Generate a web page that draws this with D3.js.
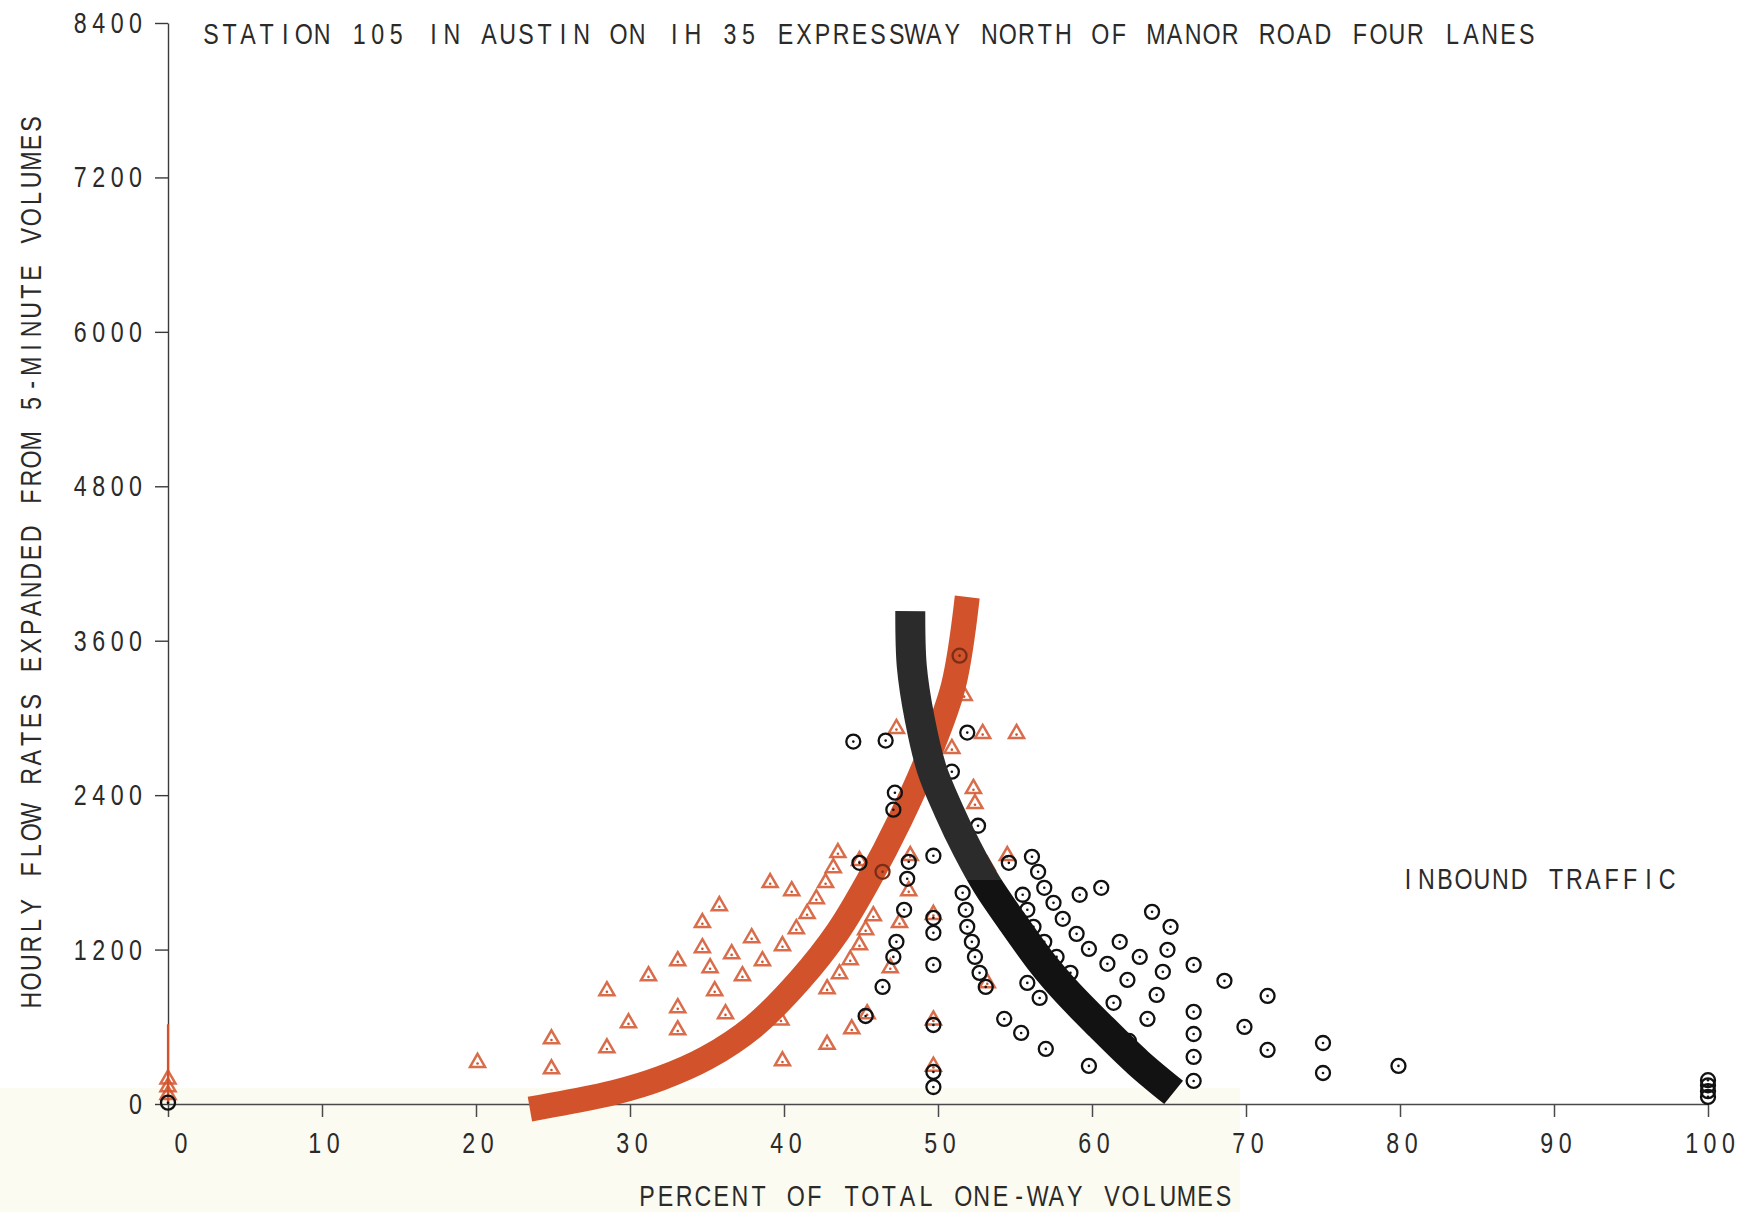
<!DOCTYPE html>
<html>
<head>
<meta charset="utf-8">
<script src="https://cdn.jsdelivr.net/npm/d3@7/dist/d3.min.js"></script>
<style>
  html, body { margin: 0; padding: 0; background: #ffffff; }
  svg { display: block; }
  .plot-text { font-family: "Liberation Sans", Arial, sans-serif; fill: #2a2a2a; }
</style>
</head>
<body>
<svg id="chart" width="1744" height="1212"></svg>
<script>
// ---- labels ----
const titleText = "STATION 105 IN AUSTIN ON IH 35 EXPRESSWAY NORTH OF MANOR ROAD FOUR LANES";
const xAxisTitle = "PERCENT OF TOTAL ONE-WAY VOLUMES";
const yAxisTitle = "HOURLY FLOW RATES EXPANDED FROM 5-MINUTE VOLUMES";
const panelNote = "INBOUND TRAFFIC";

// ---- axis ticks ----
const xTicks = [0, 10, 20, 30, 40, 50, 60, 70, 80, 90, 100];
const yTicks = [0, 1200, 2400, 3600, 4800, 6000, 7200, 8400];

// ---- observations: [percent of total one-way volume, hourly flow rate] ----
const inboundPoints = [
  [0, 10],
  [44.5, 2816], [46.6, 2824], [51.9, 2886], [50.9, 2582], [52.6, 2162], [47.2, 2419], [47.1, 2287],
  [44.9, 1874], [48.1, 1882], [48.0, 1750], [49.7, 1929], [47.8, 1509], [49.7, 1447], [49.7, 1330],
  [47.3, 1260], [47.1, 1143], [49.7, 1081], [46.4, 910], [45.3, 684], [49.7, 614], [49.7, 249], [49.7, 132],
  [54.6, 1874], [51.6, 1641], [51.8, 1509], [51.9, 1377], [52.2, 1260], [52.4, 1143], [52.7, 1019],
  [53.1, 910], [54.3, 661], [55.5, 1626],
  [56.1, 1921], [56.5, 1804], [56.9, 1680], [57.5, 1563], [55.8, 1509], [58.1, 1439], [56.2, 1377],
  [59.0, 1322], [56.9, 1260], [59.8, 1205], [57.7, 1143], [61.0, 1089], [58.6, 1019], [59.2, 1626],
  [60.6, 1680], [61.8, 1260], [63.1, 1143], [62.3, 964], [63.9, 1493], [65.1, 1377], [64.9, 1198],
  [64.6, 1027], [66.6, 1081], [64.2, 848], [61.4, 786], [63.6, 661], [66.6, 716], [66.6, 544],
  [66.6, 366], [66.6, 179], [55.4, 552], [57.0, 428], [59.8, 296], [62.4, 490], [68.6, 957],
  [71.4, 840], [69.9, 599], [71.4, 420], [75.0, 474], [75.0, 241], [79.9, 296], [55.8, 941], [56.6, 824],
  [100, 55], [100, 100], [100, 145], [100, 185]
];

const outboundPoints = [
  [0, 80], [0, 140], [0, 200],
  [20.1, 330], [24.9, 513], [24.9, 280], [28.5, 887], [28.5, 443], [29.9, 638], [31.2, 1003],
  [33.1, 1120], [33.1, 755], [33.1, 583], [34.7, 1416], [34.7, 1221], [35.2, 1066], [35.5, 887],
  [35.8, 1548], [36.2, 708], [36.6, 1174], [37.3, 1003], [37.9, 1299], [38.6, 1120], [39.1, 1727],
  [39.9, 1237], [39.9, 342], [39.8, 660], [40.5, 1664], [40.8, 1369], [41.5, 1486], [42.1, 1602],
  [42.7, 1727], [43.2, 1843], [43.5, 1960], [42.8, 902], [43.6, 1019], [42.8, 470], [44.4, 591],
  [44.3, 1128], [44.9, 1244], [45.3, 1361], [45.8, 1470], [44.9, 1898], [46.9, 1066], [47.5, 1416],
  [48.2, 1937], [48.1, 1664], [45.4, 708], [47.3, 2925], [50.9, 2769], [51.7, 3181], [52.3, 2458],
  [52.4, 2341], [52.9, 2886], [55.1, 2886], [53.2, 1859], [54.5, 1937], [53.2, 949],
  [49.7, 1480], [49.7, 660], [49.7, 300]
];

// marks where both series print on top of each other
const overprintPoints = [[51.4, 3484], [46.4, 1804]];

// ---- fitted relationships ----
const outboundCurve = [
  [23.5, -40], [26, 15], [29, 90], [32, 200], [35, 360], [38, 600], [41, 960], [43.5, 1340],
  [45.5, 1740], [47.5, 2200], [49.5, 2740], [51, 3250], [51.9, 3940]
];
const inboundCurve = [
  [48.2, 3830], [48.3, 3400], [48.8, 3000], [49.6, 2600], [50.7, 2280], [51.9, 1980], [53.2, 1700],
  [54.8, 1420], [56.8, 1090], [58.3, 880], [60.5, 610], [63.0, 320], [65.3, 90]
];

// outbound series is also
const outboundZeroTrace = [0, 620];

// ---- drawing ----
const RED = "#d2532b";

const svg = d3.select("#chart");
const x = d3.scaleLinear().domain([0, 100]).range([168, 1708]);
const y = d3.scaleLinear().domain([0, 8400]).range([1104, 23]);

// paper tint along the lower edge
svg.append("rect").attr("x", 0).attr("y", 1088).attr("width", 1240).attr("height", 124)
  .attr("fill", "#fcfbf1");

// plotter-style text: one condensed glyph per fixed cell, each cell centred
const ADV = 18.4;
const SQUEEZE = 0.8;
function cellText(parent, str, firstCenter, baseline, adv) {
  const xs = Array.from(str, (_, i) => ((firstCenter + i * adv) / SQUEEZE).toFixed(1));
  return parent.append("text").attr("class", "plot-text")
    .attr("transform", `scale(${SQUEEZE},1)`)
    .attr("x", xs.join(" ")).attr("y", baseline)
    .attr("text-anchor", "middle").attr("font-size", 29)
    .text(str);
}

// axes
const yAxis = d3.axisLeft(y).tickValues(yTicks).tickSize(13).tickSizeOuter(0).tickFormat("");
const gy = svg.append("g").attr("transform", `translate(${x(0)},0)`).call(yAxis);
gy.selectAll("path, line").attr("stroke", "#3a3a3a").attr("stroke-width", 1.4);

const xAxis = d3.axisBottom(x).tickValues(xTicks).tickSize(13).tickSizeOuter(0).tickFormat("");
const gx = svg.append("g").attr("transform", `translate(0,${y(0)})`).call(xAxis);
gx.selectAll("path, line").attr("stroke", "#4a4a4a").attr("stroke-width", 1.5);

svg.append("line")
  .attr("x1", x(0)).attr("x2", x(0))
  .attr("y1", y(outboundZeroTrace[0])).attr("y2", y(outboundZeroTrace[1]))
  .attr("stroke", RED).attr("stroke-width", 2.2);

// tick labels
yTicks.forEach(v => {
  const s = String(v);
  const rightCenter = 135.5;
  cellText(svg, s, rightCenter - (s.length - 1) * ADV, y(v) + 10, ADV);
});
xTicks.forEach(v => {
  const s = String(v);
  const nudge = v === 0 ? 13 : 2;   // clear the vertical axis
  cellText(svg, s, x(v) + nudge - (s.length - 1) * ADV / 2, 1153, ADV);
});

// titles
cellText(svg, titleText, 211, 44, 18.53);
cellText(svg, xAxisTitle, 647, 1206, 18.6);
cellText(svg, panelNote, 1408, 889, 18.5);
const gYT = svg.append("g").attr("transform", "translate(41,0) rotate(-90)");
cellText(gYT, yAxisTitle, -1000, 0, 18.64);

// outbound observations (triangles)
const tri = d3.symbol().type(d3.symbolTriangle).size(98);
const gTri = svg.append("g");
gTri.selectAll("path").data(outboundPoints).join("path")
  .attr("d", tri)
  .attr("transform", d => `translate(${x(d[0])},${y(d[1]) + 1})`)
  .attr("fill", "none").attr("stroke", RED).attr("stroke-width", 2.5)
  .attr("stroke-opacity", 0.85);
gTri.selectAll("circle").data(outboundPoints).join("circle")
  .attr("cx", d => x(d[0])).attr("cy", d => y(d[1]) + 2).attr("r", 1.3)
  .attr("fill", RED);

// fitted curves
const line = d3.line().x(d => x(d[0])).y(d => y(d[1])).curve(d3.curveCatmullRom.alpha(0.5));
svg.append("path").attr("d", line(outboundCurve))
  .attr("fill", "none").attr("stroke", RED).attr("stroke-width", 25).attr("stroke-linecap", "butt");

// inbound observations (circles with centre dot)
const gCirc = svg.append("g");
gCirc.selectAll("circle.ring").data(inboundPoints).join("circle").attr("class", "ring")
  .attr("cx", d => x(d[0])).attr("cy", d => y(d[1])).attr("r", 7)
  .attr("fill", "none").attr("stroke", "#111").attr("stroke-width", 2.3);
gCirc.selectAll("circle.dot").data(inboundPoints).join("circle").attr("class", "dot")
  .attr("cx", d => x(d[0])).attr("cy", d => y(d[1])).attr("r", 1.3).attr("fill", "#111");

const gOver = svg.append("g");
gOver.selectAll("circle.ring").data(overprintPoints).join("circle").attr("class", "ring")
  .attr("cx", d => x(d[0])).attr("cy", d => y(d[1])).attr("r", 7)
  .attr("fill", "none").attr("stroke", "#7a2e18").attr("stroke-width", 2.3);
gOver.selectAll("circle.dot").data(overprintPoints).join("circle").attr("class", "dot")
  .attr("cx", d => x(d[0])).attr("cy", d => y(d[1])).attr("r", 1.3).attr("fill", "#7a2e18");

// inbound band: the upper part of the print is a touch lighter
const grad = svg.append("defs").append("linearGradient").attr("id", "inboundInk")
  .attr("gradientUnits", "userSpaceOnUse")
  .attr("x1", 0).attr("x2", 0).attr("y1", y(4000)).attr("y2", y(0));
const split = (880 - y(4000)) / (y(0) - y(4000));
grad.append("stop").attr("offset", 0).attr("stop-color", "#2b2b2b");
grad.append("stop").attr("offset", split).attr("stop-color", "#2b2b2b");
grad.append("stop").attr("offset", split).attr("stop-color", "#121212");
grad.append("stop").attr("offset", 1).attr("stop-color", "#121212");

svg.append("path").attr("d", line(inboundCurve))
  .attr("fill", "none").attr("stroke", "url(#inboundInk)").attr("stroke-width", 30)
  .attr("stroke-linecap", "butt");
</script>
</body>
</html>
